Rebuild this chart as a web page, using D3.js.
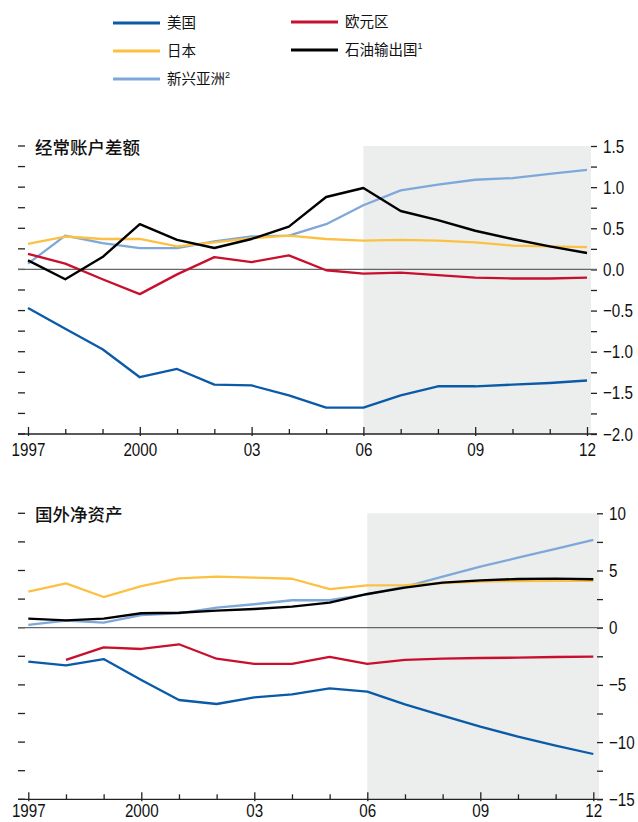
<!DOCTYPE html>
<html>
<head>
<meta charset="utf-8">
<script src="https://cdn.jsdelivr.net/npm/d3@7"></script>
<style>
  html, body { margin: 0; padding: 0; background: #fff; }
  svg { display: block; }
  .num { font-family: "Liberation Sans", "DejaVu Sans", sans-serif; font-size: 19px; fill: #111; }
  .cjk { font-family: "Noto Sans CJK SC", sans-serif; fill: #111; }
</style>
</head>
<body>
<svg id="chart" width="638" height="822"></svg>
<script>
// ---- data ----
const years = [1997,1998,1999,2000,2001,2002,2003,2004,2005,2006,2007,2008,2009,2010,2011,2012];
const xTickLabels = ["1997","2000","03","06","09","12"];
const xTickYears = [1997,2000,2003,2006,2009,2012];
const projectionStart = 2006;

const seriesNames = ["美国","日本","新兴亚洲","欧元区","石油输出国"];
const seriesSup = ["","","2","","1"];
const seriesColors = ["#0a5aa8","#fcc043","#7ea8da","#c8102e","#000000"];

// Current account balance (top panel)
const caUS     = [-0.47,-0.72,-0.97,-1.31,-1.21,-1.40,-1.41,-1.53,-1.68,-1.68,-1.53,-1.42,-1.42,-1.40,-1.38,-1.35];
const caJapan  = [0.31,0.40,0.37,0.37,0.28,0.33,0.38,0.41,0.37,0.35,0.36,0.35,0.33,0.29,0.28,0.27];
const caEmAsia = [0.07,0.41,0.32,0.26,0.26,0.34,0.40,0.41,0.55,0.78,0.96,1.03,1.09,1.11,1.16,1.21];
const caEuro   = [0.19,0.07,-0.12,-0.30,-0.06,0.15,0.09,0.17,-0.01,-0.05,-0.04,-0.07,-0.10,-0.11,-0.11,-0.10];
const caOil    = [0.11,-0.12,0.15,0.55,0.36,0.26,0.37,0.52,0.88,0.99,0.71,0.60,0.47,0.37,0.28,0.20];

// Net foreign assets (bottom panel)
const nfaUS     = [-2.97,-3.29,-2.74,-4.57,-6.32,-6.67,-6.09,-5.82,-5.30,-5.59,-6.70,-7.69,-8.65,-9.52,-10.30,-11.04];
const nfaJapan  = [3.15,3.88,2.68,3.64,4.31,4.46,4.37,4.28,3.38,3.70,3.73,3.90,4.02,4.08,4.10,4.10];
const nfaEmAsia = [0.24,0.61,0.44,1.11,1.26,1.75,2.05,2.40,2.40,2.92,3.58,4.46,5.33,6.12,6.88,7.67];
const nfaEuro   = [null,-2.82,-1.72,-1.86,-1.45,-2.71,-3.17,-3.17,-2.56,-3.17,-2.82,-2.71,-2.65,-2.62,-2.56,-2.53];
const nfaOil    = [0.79,0.64,0.79,1.26,1.31,1.49,1.63,1.84,2.19,2.95,3.50,3.94,4.14,4.26,4.29,4.23];

const caTicks = [1.5,1.0,0.5,0.0,-0.5,-1.0,-1.5,-2.0];
const nfaTicks = [10,5,0,-5,-10,-15];

// ---- drawing ----
const svg = d3.select("#chart");
const NARROW = 0.8;

// legend
const legendItems = [
  {i:0, x:113, y:23}, {i:1, x:113, y:51}, {i:2, x:113, y:79},
  {i:3, x:291, y:22}, {i:4, x:291, y:50}
];
const lg = svg.append("g");
legendItems.forEach(d => {
  lg.append("line").attr("x1", d.x).attr("x2", d.x + 47).attr("y1", d.y).attr("y2", d.y)
    .attr("stroke", seriesColors[d.i]).attr("stroke-width", 3);
  const t = lg.append("text").attr("class","cjk").attr("x", d.x + 54).attr("y", d.y + 5)
    .attr("font-size", 14.5).text(seriesNames[d.i]);
  if (seriesSup[d.i]) t.append("tspan").attr("dy", -6).attr("font-size", 9)
    .attr("font-family", "Liberation Sans, sans-serif").text(seriesSup[d.i]);
});

function panel(cfg) {
  const g = svg.append("g");
  const x = d3.scaleLinear().domain([1997, 2012]).range([cfg.x0, cfg.x1]);
  const y = d3.scaleLinear().domain(cfg.domain).range([cfg.yTop, cfg.yBot]);

  // projection shading
  g.append("rect").attr("x", x(projectionStart)).attr("y", cfg.yTop)
    .attr("width", cfg.shadeRight - x(projectionStart)).attr("height", cfg.yBot - cfg.yTop)
    .attr("fill", "#eceeee");

  // minor ticks left
  const minor = d3.range(cfg.domain[1], cfg.domain[0] + cfg.minorStep/2, cfg.minorStep);
  minor.forEach(v => {
    g.append("line").attr("x1", 18).attr("x2", 25).attr("y1", y(v)).attr("y2", y(v))
      .attr("stroke", "#222").attr("stroke-width", 1.3);
  });

  // right axis
  const ra = d3.axisRight(y).tickValues(minor).tickSize(6).tickPadding(6)
    .tickFormat(v => cfg.ticks.some(t => Math.abs(t - v) < 1e-9) ? cfg.fmt(v) : "");
  const rg = g.append("g").attr("transform", `translate(${cfg.rightX},0)`).call(ra);
  rg.select(".domain").remove();
  rg.selectAll(".tick line").attr("stroke", "#222").attr("stroke-width", 1.3);
  rg.selectAll(".tick text").attr("class", "num").attr("font-size", null).attr("font-family", null).attr("fill", null)
    .attr("x", 12 / NARROW).attr("transform", `scale(${NARROW},1)`);

  // zero line
  g.append("line").attr("x1", 18).attr("x2", cfg.rightX + 6).attr("y1", y(0)).attr("y2", y(0))
    .attr("stroke", "#666").attr("stroke-width", 1.2);

  // bottom axis
  g.append("line").attr("x1", 18).attr("x2", cfg.rightX + 6).attr("y1", cfg.yBot).attr("y2", cfg.yBot)
    .attr("stroke", "#222").attr("stroke-width", 1.3);
  const xa = d3.axisBottom(x).tickValues(years).tickSize(-5).tickPadding(8)
    .tickFormat(v => { const k = xTickYears.indexOf(v); return k >= 0 ? xTickLabels[k] : ""; });
  const xg = g.append("g").attr("transform", `translate(0,${cfg.yBot})`).call(xa);
  xg.select(".domain").remove();
  xg.selectAll(".tick line").attr("stroke", "#222").attr("stroke-width", 1.3)
    .attr("y2", v => xTickYears.includes(v) ? -7 : -5).attr("y1", v => xTickYears.includes(v) ? 2 : 0);
  xg.selectAll(".tick text").attr("class", "num").attr("font-size", null).attr("font-family", null).attr("fill", null)
    .attr("y", cfg.labelGap).attr("dy", "0.71em").attr("transform", `scale(${NARROW},1)`);

  // title
  g.append("text").attr("class", "cjk").attr("x", 35).attr("y", cfg.yTop + 8)
    .attr("font-size", 17.5).attr("font-weight", 500).text(cfg.title);

  // lines
  const line = d3.line().defined(d => d != null).x((d, i) => x(years[i])).y(d => y(d));
  const order = [2, 1, 3, 0, 4];
  order.forEach(k => {
    g.append("path").datum(cfg.series[k]).attr("d", line)
      .attr("fill", "none").attr("stroke", seriesColors[k]).attr("stroke-width", k === 4 ? 2.4 : 2.3)
      .attr("stroke-linejoin", "round");
  });
}

panel({
  title: "经常账户差额",
  x0: 28, x1: 587, yTop: 146, yBot: 434, domain: [1.5, -2.0],
  rightX: 591, shadeRight: 591, minorStep: 0.25, ticks: caTicks, labelGap: 9,
  fmt: d3.format(".1f"),
  series: [caUS, caJapan, caEmAsia, caEuro, caOil]
});

panel({
  title: "国外净资产",
  x0: 28.3, x1: 593.3, yTop: 513.3, yBot: 799.3, domain: [10, -15],
  rightX: 597, shadeRight: 599, minorStep: 2.5, ticks: nfaTicks, labelGap: 4.5,
  fmt: d3.format("d"),
  series: [nfaUS, nfaJapan, nfaEmAsia, nfaEuro, nfaOil]
});
</script>
</body>
</html>
